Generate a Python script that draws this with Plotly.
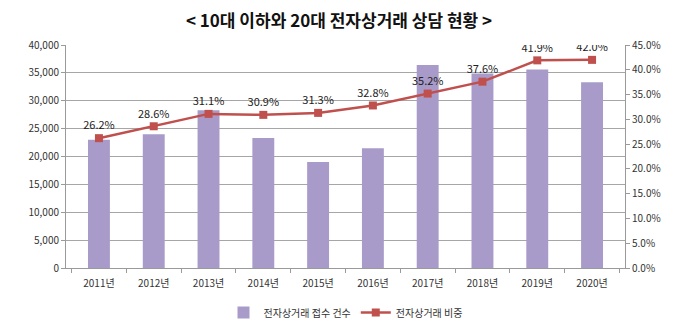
import plotly.graph_objects as go

# Yearly e-commerce consultation data (teens and under + twenties)
years = ["2011년", "2012년", "2013년", "2014년", "2015년",
         "2016년", "2017년", "2018년", "2019년", "2020년"]
counts = [23000, 24000, 28300, 23300, 19000, 21500, 36400, 34900, 35600, 33300]
shares = [26.2, 28.6, 31.1, 30.9, 31.3, 32.8, 35.2, 37.6, 41.9, 42.0]

font_family = "Noto Sans CJK KR, Noto Sans, sans-serif"
axis_grey = "#9a9a9a"

fig = go.Figure()

fig.add_trace(go.Bar(
    x=years, y=counts, name="전자상거래 접수 건수",
    marker=dict(color="#A99BC9", line=dict(width=0)),
    yaxis="y",
))

fig.add_trace(go.Scatter(
    x=years, y=shares, name="전자상거래 비중",
    mode="lines+markers+text",
    line=dict(color="#C0504D", width=2.5),
    marker=dict(symbol="square", size=8, color="#C0504D"),
    text=[f"{v:.1f}%" for v in shares],
    textposition="top center",
    textfont=dict(size=11, color="#222222", family=font_family),
    yaxis="y2",
))

fig.update_layout(
    width=678, height=330,
    margin=dict(l=66, r=53, t=45, b=62, autoexpand=False),
    paper_bgcolor="white", plot_bgcolor="white",
    font=dict(family=font_family, size=10, color="#333333"),
    title=dict(
        text="<b>&lt; 10대 이하와 20대 전자상거래 상담 현황 &gt;</b>",
        x=0.5, xanchor="center", y=0.935, yanchor="middle",
        font=dict(size=17, color="#111111", family=font_family),
    ),
    bargap=0.6,
    showlegend=True,
    legend=dict(
        orientation="h", x=0.5, xanchor="center", y=-0.2, yanchor="middle",
        font=dict(size=10, color="#333333"),
        itemwidth=30,
    ),
    xaxis=dict(
        showline=True, linecolor=axis_grey, linewidth=1,
        ticks="outside", ticklen=4, tickcolor=axis_grey,
        tickson="boundaries", showgrid=False,
        ticklabelstandoff=6,
        tickfont=dict(size=10),
    ),
    yaxis=dict(
        range=[0, 40000], dtick=5000, tickformat=",",
        showline=True, linecolor=axis_grey, linewidth=1,
        ticks="outside", ticklen=4, tickcolor=axis_grey,
        showgrid=True, gridcolor="#a6a6a6", gridwidth=1,
        zeroline=False, tickfont=dict(size=10),
    ),
    yaxis2=dict(
        range=[0, 45], dtick=5, tickformat=".1f", ticksuffix="%",
        overlaying="y", side="right",
        showline=True, linecolor=axis_grey, linewidth=1,
        ticks="outside", ticklen=4, tickcolor=axis_grey,
        showgrid=False, zeroline=False, tickfont=dict(size=10),
    ),
)

fig.write_html("out.html")
